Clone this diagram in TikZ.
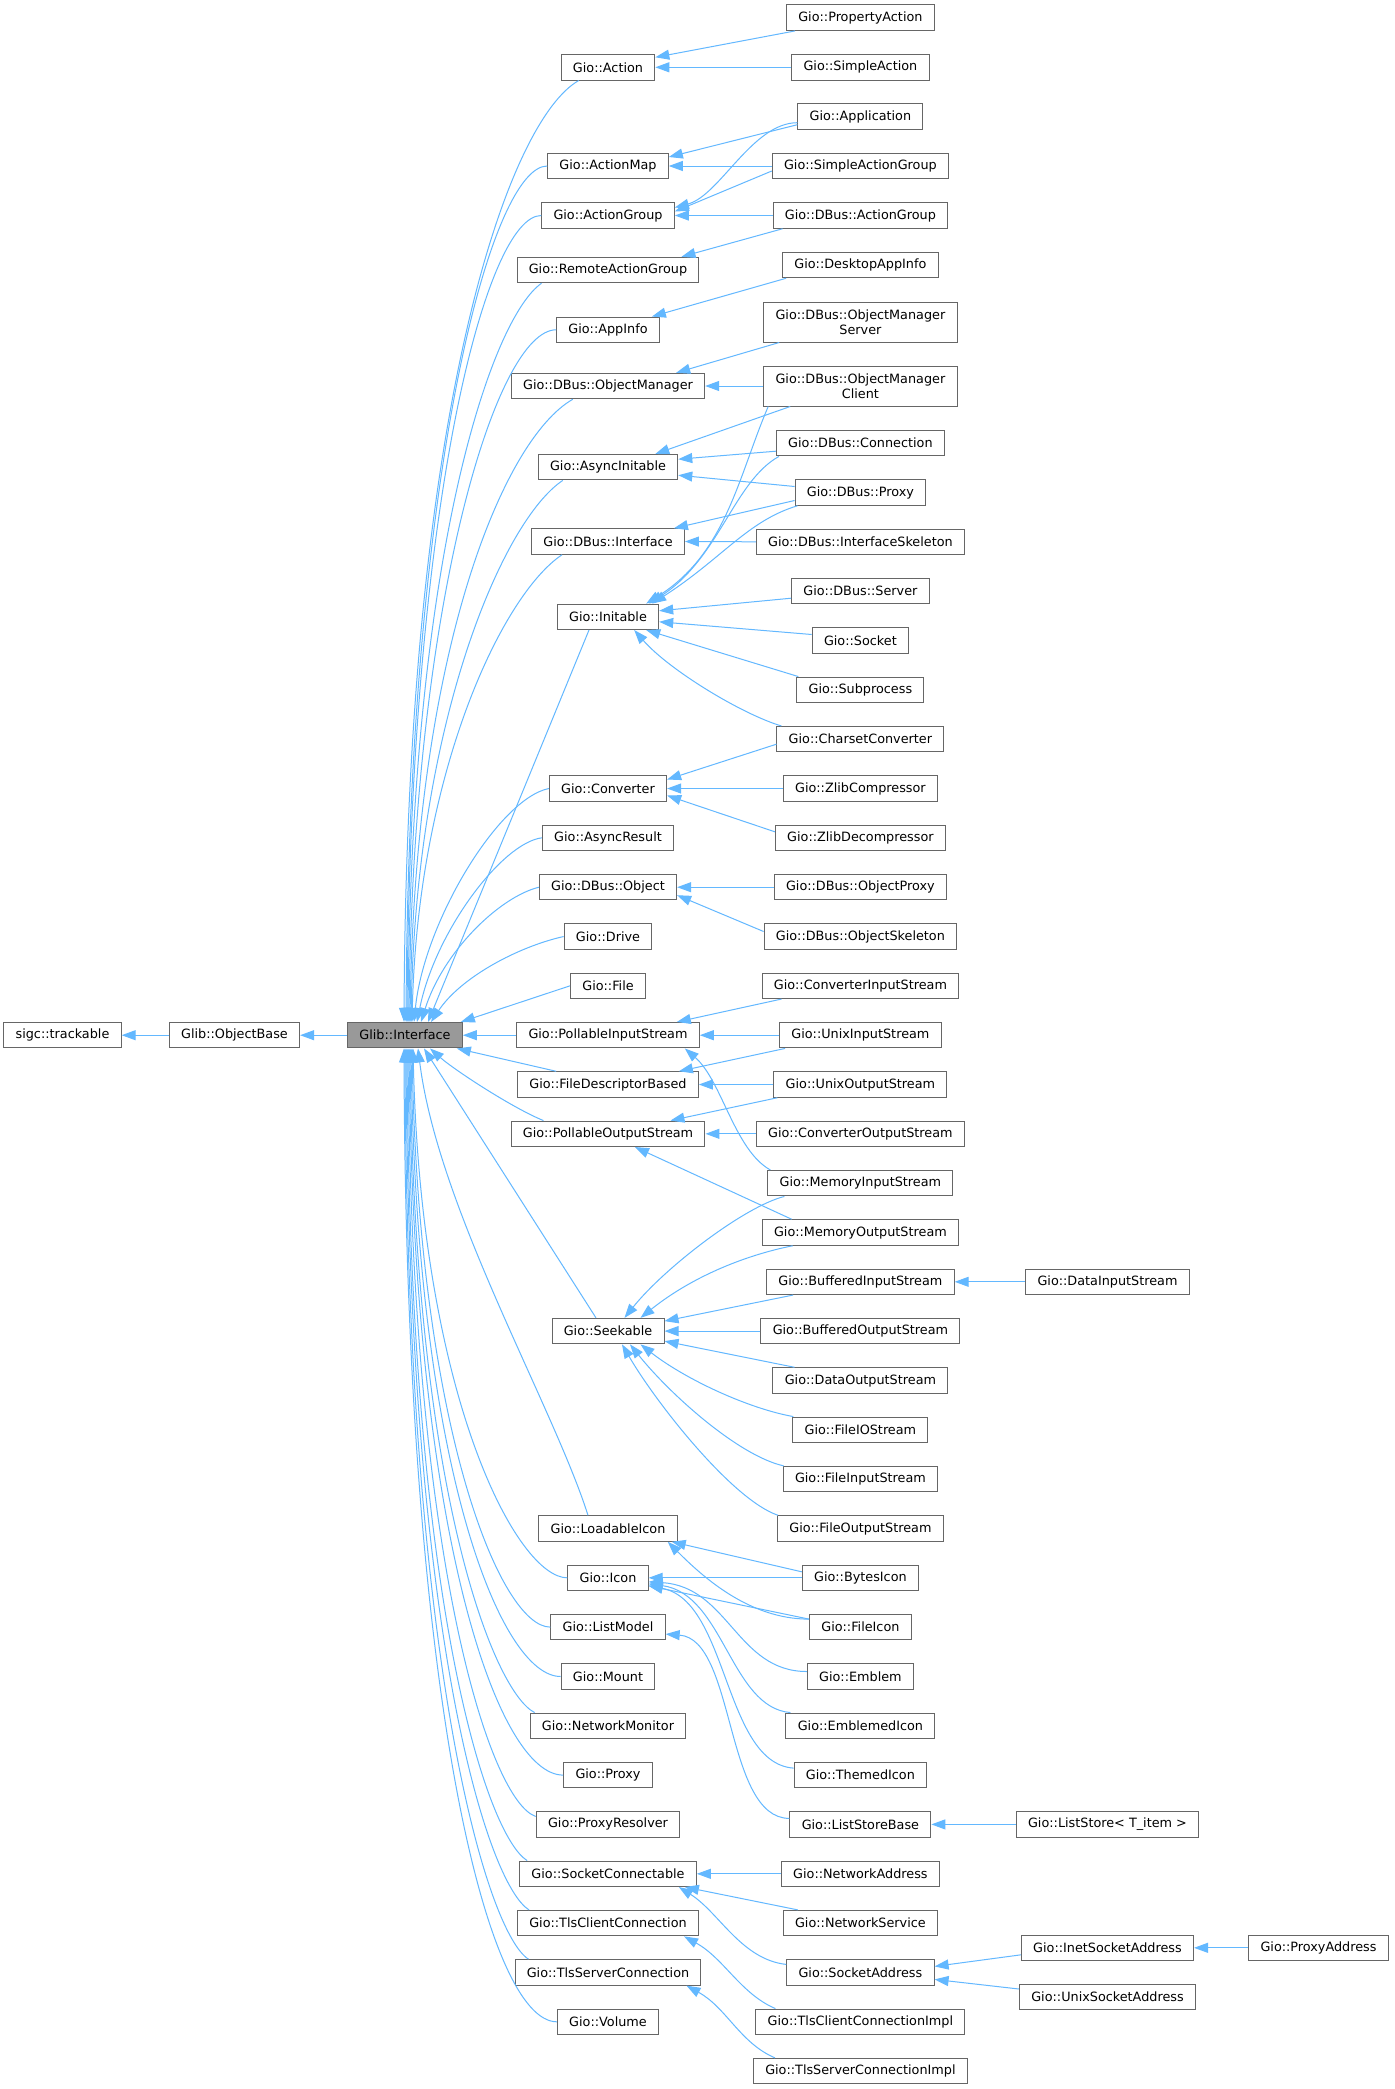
\documentclass[tikz,border=0pt]{standalone}
\usepackage{fontspec}
\newfontfamily\djv{DejaVu Sans}
\usetikzlibrary{arrows.meta,calc}
\definecolor{edgec}{HTML}{63B8FF}
\definecolor{boxc}{HTML}{666666}
\definecolor{rootc}{HTML}{999999}
\begin{document}
\begin{tikzpicture}[x=0.75pt,y=-0.75pt,
  box/.style={draw=boxc, fill=white, line width=0.75pt, inner xsep=8.85pt, inner ysep=4.5pt, minimum height=19.1pt, align=center, font=\djv\fontsize{9.6pt}{11.25pt}\selectfont},
  twoline/.style={box, minimum height=30pt},
  root/.style={box, fill=rootc},
  edge/.style={draw=edgec, line width=0.75pt, -{Triangle[length=10.5pt,width=7.5pt]}},
]
\fill[white] (0,0) rectangle (1395,2089);
\useasboundingbox (0,0) rectangle (1395,2089);

% columns 0-2
\node[box] (tr) at (62.5,1035.2) {sigc::trackable};
\node[box] (ob) at (234.5,1035.2) {Glib::ObjectBase};
\node[root] (iface) at (405,1035.2) {Glib::Interface};

% column 3
\node[box] (act) at (608,67.3) {Gio::Action};
\node[box] (amap) at (608,166) {Gio::ActionMap};
\node[box] (agrp) at (608,215.5) {Gio::ActionGroup};
\node[box] (rag) at (608,270) {Gio::RemoteActionGroup};
\node[box] (appi) at (608,329.8) {Gio::AppInfo};
\node[box] (om) at (608,386) {Gio::DBus::ObjectManager};
\node[box] (ainit) at (608,467.2) {Gio::AsyncInitable};
\node[box] (dif) at (608,541.5) {Gio::DBus::Interface};
\node[box] (init) at (608,616.8) {Gio::Initable};
\node[box] (conv) at (608,788.5) {Gio::Converter};
\node[box] (ares) at (608,837.8) {Gio::AsyncResult};
\node[box] (dobj) at (608,887.2) {Gio::DBus::Object};
\node[box] (drive) at (608,936.5) {Gio::Drive};
\node[box] (file) at (608,985.8) {Gio::File};
\node[box] (pis) at (608,1035.2) {Gio::PollableInputStream};
\node[box] (fdb) at (608,1084.5) {Gio::FileDescriptorBased};
\node[box] (pos) at (608,1133.8) {Gio::PollableOutputStream};
\node[box] (seek) at (608,1331.1) {Gio::Seekable};
\node[box] (licon) at (608,1528.5) {Gio::LoadableIcon};
\node[box] (icon) at (608,1577.8) {Gio::Icon};
\node[box] (lmod) at (608,1627.1) {Gio::ListModel};
\node[box] (mount) at (608,1676.5) {Gio::Mount};
\node[box] (netmon) at (608,1725.8) {Gio::NetworkMonitor};
\node[box] (proxy) at (608,1775.1) {Gio::Proxy};
\node[box] (presol) at (608,1824.4) {Gio::ProxyResolver};
\node[box] (sconn) at (608,1873.8) {Gio::SocketConnectable};
\node[box] (tcc) at (608,1923.1) {Gio::TlsClientConnection};
\node[box] (tsc) at (608,1972.4) {Gio::TlsServerConnection};
\node[box] (vol) at (608,2021.8) {Gio::Volume};

% column 4
\node[box] (pact) at (860.4,17.7) {Gio::PropertyAction};
\node[box] (sact) at (860.4,67.3) {Gio::SimpleAction};
\node[box] (app) at (860.4,116.7) {Gio::Application};
\node[box] (sag) at (860.4,166) {Gio::SimpleActionGroup};
\node[box] (dag) at (860.4,215.5) {Gio::DBus::ActionGroup};
\node[box] (dai) at (860.4,265) {Gio::DesktopAppInfo};
\node[twoline] (oms) at (860.4,322) {Gio::DBus::ObjectManager\\Server};
\node[twoline] (omc) at (860.4,386) {Gio::DBus::ObjectManager\\Client};
\node[box] (dconn) at (860.4,443.2) {Gio::DBus::Connection};
\node[box] (dprox) at (860.4,492.5) {Gio::DBus::Proxy};
\node[box] (difs) at (860.4,541.8) {Gio::DBus::InterfaceSkeleton};
\node[box] (dsrv) at (860.4,591.2) {Gio::DBus::Server};
\node[box] (sock) at (860.4,640.5) {Gio::Socket};
\node[box] (subp) at (860.4,689.8) {Gio::Subprocess};
\node[box] (ccon) at (860.4,739.2) {Gio::CharsetConverter};
\node[box] (zc) at (860.4,788.5) {Gio::ZlibCompressor};
\node[box] (zd) at (860.4,837.8) {Gio::ZlibDecompressor};
\node[box] (oprox) at (860.4,887.2) {Gio::DBus::ObjectProxy};
\node[box] (oskel) at (860.4,936.5) {Gio::DBus::ObjectSkeleton};
\node[box] (cis) at (860.4,985.8) {Gio::ConverterInputStream};
\node[box] (uis) at (860.4,1035.2) {Gio::UnixInputStream};
\node[box] (uos) at (860.4,1084.5) {Gio::UnixOutputStream};
\node[box] (cos) at (860.4,1133.8) {Gio::ConverterOutputStream};
\node[box] (mis) at (860.4,1183.2) {Gio::MemoryInputStream};
\node[box] (mos) at (860.4,1232.5) {Gio::MemoryOutputStream};
\node[box] (bis) at (860.4,1281.8) {Gio::BufferedInputStream};
\node[box] (bos) at (860.4,1331.1) {Gio::BufferedOutputStream};
\node[box] (dos) at (860.4,1380.5) {Gio::DataOutputStream};
\node[box] (fio) at (860.4,1429.8) {Gio::FileIOStream};
\node[box] (fis) at (860.4,1479.1) {Gio::FileInputStream};
\node[box] (fos) at (860.4,1528.5) {Gio::FileOutputStream};
\node[box] (bicon) at (860.4,1577.8) {Gio::BytesIcon};
\node[box] (ficon) at (860.4,1627.1) {Gio::FileIcon};
\node[box] (emb) at (860.4,1676.5) {Gio::Emblem};
\node[box] (embi) at (860.4,1725.8) {Gio::EmblemedIcon};
\node[box] (ticon) at (860.4,1775.1) {Gio::ThemedIcon};
\node[box] (lsb) at (860.4,1824.4) {Gio::ListStoreBase};
\node[box] (naddr) at (860.4,1873.8) {Gio::NetworkAddress};
\node[box] (nserv) at (860.4,1923.1) {Gio::NetworkService};
\node[box] (saddr) at (860.4,1972.4) {Gio::SocketAddress};
\node[box] (tci) at (860.4,2021.8) {Gio::TlsClientConnectionImpl};
\node[box] (tsi) at (860.4,2071.1) {Gio::TlsServerConnectionImpl};

% columns 5-6
\node[box] (dis) at (1107.5,1281.8) {Gio::DataInputStream};
\node[box] (ls) at (1107.5,1824.4) {Gio::ListStore< T\_item >};
\node[box] (isa) at (1107.5,1947.8) {Gio::InetSocketAddress};
\node[box] (usa) at (1107.5,1997) {Gio::UnixSocketAddress};
\node[box] (paddr) at (1318.5,1947.8) {Gio::ProxyAddress};

% base chain
\draw[edge] (ob.west) -- (tr.east);
\draw[edge] (iface.west) -- (ob.east);

% to Glib::Interface, from above
\draw[edge] ($(act.south west)+(18,0)$) .. controls +(-70,40) and +(3,-620) .. ($(iface.north)+(-1,0)$);
\draw[edge] (amap.west) .. controls +(-55,0) and +(3,-560) .. ($(iface.north)+(1,0)$);
\draw[edge] (agrp.west) .. controls +(-55,0) and +(3,-520) .. ($(iface.north)+(2,0)$);
\draw[edge] ($(rag.south west)+(25,0)$) .. controls +(-50,35) and +(3,-470) .. ($(iface.north)+(3,0)$);
\draw[edge] (appi.west) .. controls +(-60,0) and +(4,-420) .. ($(iface.north)+(4,0)$);
\draw[edge] ($(om.south west)+(62,0)$) .. controls +(-70,40) and +(5,-370) .. ($(iface.north)+(5,0)$);
\draw[edge] ($(ainit.south west)+(25,0)$) .. controls +(-60,40) and +(5,-300) .. ($(iface.north)+(6,0)$);
\draw[edge] ($(dif.south west)+(31,0)$) .. controls +(-60,40) and +(6,-250) .. ($(iface.north)+(7,0)$);
\draw[edge] ($(init.south)+(-19,0)$) -- ($(iface.north)+(23,0)$);
\draw[edge] (conv.west) .. controls +(-50,10) and +(10,-100) .. ($(iface.north)+(9,0)$);
\draw[edge] (ares.west) .. controls +(-40,5) and +(18,-90) .. ($(iface.north)+(12,0)$);
\draw[edge] (dobj.west) .. controls +(-40,10) and +(22,-70) .. ($(iface.north)+(16,0)$);
\draw[edge] (drive.west) .. controls +(-45,10) and +(30,-45) .. ($(iface.north)+(26,0)$);
\draw[edge] (file.west) -- ($(iface.north east)+(-2,0)$);
\draw[edge] (pis.west) -- (iface.east);

% to Glib::Interface, from below
\draw[edge] ($(fdb.north west)+(39,0)$) -- ($(iface.south east)+(-6,0)$);
\draw[edge] ($(pos.north west)+(33,0)$) .. controls +(-30,-12) and +(25,22) .. ($(iface.south)+(25,0)$);
\draw[edge] ($(seek.north)+(-12,0)$) -- ($(iface.south)+(19,0)$);
\draw[edge] ($(licon.north)+(-20,0)$) .. controls +(-35,-110) and +(20,160) .. ($(iface.south)+(13,0)$);
\draw[edge] (icon.west) .. controls +(-50,0) and +(8,350) .. ($(iface.south)+(8,0)$);
\draw[edge] (lmod.west) .. controls +(-50,0) and +(7,380) .. ($(iface.south)+(7,0)$);
\draw[edge] (mount.west) .. controls +(-60,0) and +(6,420) .. ($(iface.south)+(6,0)$);
\draw[edge] ($(netmon.north west)+(5,0)$) .. controls +(-40,-20) and +(5,450) .. ($(iface.south)+(5,0)$);
\draw[edge] (proxy.west) .. controls +(-65,0) and +(5,490) .. ($(iface.south)+(4,0)$);
\draw[edge] ($(presol.west)+(0,-8)$) .. controls +(-45,-15) and +(4,520) .. ($(iface.south)+(3,0)$);
\draw[edge] ($(sconn.north west)+(8,0)$) .. controls +(-40,-25) and +(3,560) .. ($(iface.south)+(2,0)$);
\draw[edge] ($(tcc.north west)+(12,0)$) .. controls +(-40,-25) and +(3,600) .. ($(iface.south)+(1,0)$);
\draw[edge] ($(tsc.north west)+(14,0)$) .. controls +(-40,-25) and +(2,630) .. ($(iface.south)+(0,0)$);
\draw[edge] (vol.west) .. controls +(-70,0) and +(2,650) .. ($(iface.south)+(-1,0)$);

% column 4 -> column 3
\draw[edge] ($(pact.south west)+(9,0)$) -- ($(act.east)+(0,-10)$);
\draw[edge] (sact.west) -- (act.east);
\draw[edge] ($(app.west)+(0,8)$) -- ($(amap.east)+(0,-9)$);
\draw[edge] (sag.west) -- (amap.east);
\draw[edge] ($(app.west)+(0,6)$) .. controls +(-45,0) and +(45,-12) .. ($(agrp.east)+(0,-8)$);
\draw[edge] ($(sag.west)+(0,5)$) -- ($(agrp.east)+(0,-4)$);
\draw[edge] (dag.west) -- (agrp.east);
\draw[edge] ($(dag.south west)+(10,0)$) -- ($(rag.north east)+(-18,0)$);
\draw[edge] ($(dai.south west)+(4,0)$) -- ($(appi.north east)+(-8,0)$);
\draw[edge] ($(oms.south west)+(16,0)$) -- ($(om.north east)+(-29,0)$);
\draw[edge] (omc.west) -- (om.east);
\draw[edge] ($(omc.south west)+(27,0)$) -- ($(ainit.north east)+(-23,0)$);
\draw[edge] ($(omc.south west)+(5,0)$) .. controls +(-30,70) and +(80,-50) .. ($(init.north east)+(-13,0)$);
\draw[edge] ($(dconn.west)+(0,8)$) -- ($(ainit.east)+(0,-8)$);
\draw[edge] ($(dconn.south west)+(3,0)$) .. controls +(-45,25) and +(70,-45) .. ($(init.north east)+(-10,0)$);
\draw[edge] ($(dprox.west)+(0,-6)$) -- ($(ainit.east)+(0,8)$);
\draw[edge] ($(dprox.west)+(0,8)$) -- ($(dif.north east)+(-11,0)$);
\draw[edge] ($(dprox.south west)+(3,0)$) .. controls +(-50,15) and +(70,-45) .. ($(init.north east)+(-7,0)$);
\draw[edge] (difs.west) -- (dif.east);
\draw[edge] ($(dsrv.west)+(0,7)$) -- ($(init.east)+(0,-6)$);
\draw[edge] ($(sock.west)+(0,-6)$) -- ($(init.east)+(0,5)$);
\draw[edge] ($(subp.north west)+(2,0)$) -- ($(init.south east)+(-13,0)$);
\draw[edge] ($(ccon.north west)+(5,0)$) .. controls +(-40,-12) and +(35,40) .. ($(init.south east)+(-25,0)$);
\draw[edge] ($(ccon.west)+(0,5)$) -- ($(conv.east)+(0,-9)$);
\draw[edge] (zc.west) -- (conv.east);
\draw[edge] ($(zd.west)+(0,-6)$) -- ($(conv.east)+(0,7)$);
\draw[edge] (oprox.west) -- (dobj.east);
\draw[edge] ($(oskel.west)+(0,-5)$) -- ($(dobj.east)+(0,8)$);
\draw[edge] ($(cis.south west)+(20,0)$) -- ($(pis.north east)+(-23,0)$);
\draw[edge] (uis.west) -- (pis.east);
\draw[edge] ($(uis.south west)+(6,0)$) -- ($(fdb.north east)+(-20,0)$);
\draw[edge] (uos.west) -- (fdb.east);
\draw[edge] ($(uos.south west)+(4,0)$) -- ($(pos.north east)+(-35,0)$);
\draw[edge] (cos.west) -- (pos.east);
\draw[edge] ($(mis.north west)+(3,0)$) .. controls +(-36,-20) and +(37,32) .. ($(pis.south east)+(-15,0)$);
\draw[edge] ($(mis.south west)+(17,0)$) .. controls +(-40,10) and +(40,-50) .. ($(seek.north east)+(-40,0)$);
\draw[edge] ($(mos.north west)+(30,0)$) -- ($(pos.south)+(27,0)$);
\draw[edge] ($(mos.south west)+(31,0)$) .. controls +(-50,10) and +(50,-40) .. ($(seek.north east)+(-24,0)$);
\draw[edge] ($(bis.south west)+(27,0)$) -- ($(seek.east)+(0,-10)$);
\draw[edge] (dis.west) -- (bis.east);
\draw[edge] (bos.west) -- (seek.east);
\draw[edge] ($(dos.north west)+(22,0)$) -- ($(seek.east)+(0,10)$);
\draw[edge] ($(fio.north west)+(1,0)$) .. controls +(-45,-8) and +(45,35) .. ($(seek.south east)+(-24,0)$);
\draw[edge] ($(fis.north west)+(1,0)$) .. controls +(-45,-10) and +(40,50) .. ($(seek.south)+(22,0)$);
\draw[edge] ($(fos.north west)+(1,0)$) .. controls +(-45,-15) and +(35,60) .. ($(seek.south)+(14,0)$);
\draw[edge] ($(bicon.west)+(0,-6)$) -- ($(licon.south east)+(-6,0)$);
\draw[edge] (bicon.west) -- (icon.east);
\draw[edge] ($(ficon.west)+(0,-8)$) .. controls +(-60,0) and +(35,35) .. ($(licon.south east)+(-10,0)$);
\draw[edge] ($(ficon.west)+(0,-8)$) -- ($(icon.east)+(0,8)$);
\draw[edge] ($(emb.west)+(0,-5)$) .. controls +(-70,0) and +(80,5) .. ($(icon.east)+(0,4)$);
\draw[edge] ($(embi.north west)+(5,0)$) .. controls +(-60,-5) and +(75,10) .. ($(icon.east)+(0,6)$);
\draw[edge] ($(ticon.west)+(0,-7)$) .. controls +(-70,-5) and +(80,15) .. ($(icon.east)+(0,8)$);
\draw[edge] ($(lsb.west)+(0,-6)$) .. controls +(-65,0) and +(70,5) .. ($(lmod.east)+(0,7)$);
\draw[edge] (ls.west) -- (lsb.east);
\draw[edge] (naddr.west) -- (sconn.east);
\draw[edge] ($(nserv.north west)+(15,0)$) -- ($(sconn.south east)+(-12,0)$);
\draw[edge] ($(saddr.west)+(0,-8)$) .. controls +(-45,-5) and +(40,25) .. ($(sconn.south east)+(-18,0)$);
\draw[edge] ($(isa.west)+(0,7)$) -- ($(saddr.east)+(0,-6)$);
\draw[edge] ($(usa.west)+(0,-8)$) -- ($(saddr.east)+(0,7)$);
\draw[edge] (paddr.west) -- (isa.east);
\draw[edge] ($(tci.north west)+(20,0)$) .. controls +(-35,-15) and +(40,22) .. ($(tcc.south east)+(-15,0)$);
\draw[edge] ($(tsi.north west)+(22,0)$) .. controls +(-35,-15) and +(40,22) .. ($(tsc.south east)+(-15,0)$);
\end{tikzpicture}
\end{document}
